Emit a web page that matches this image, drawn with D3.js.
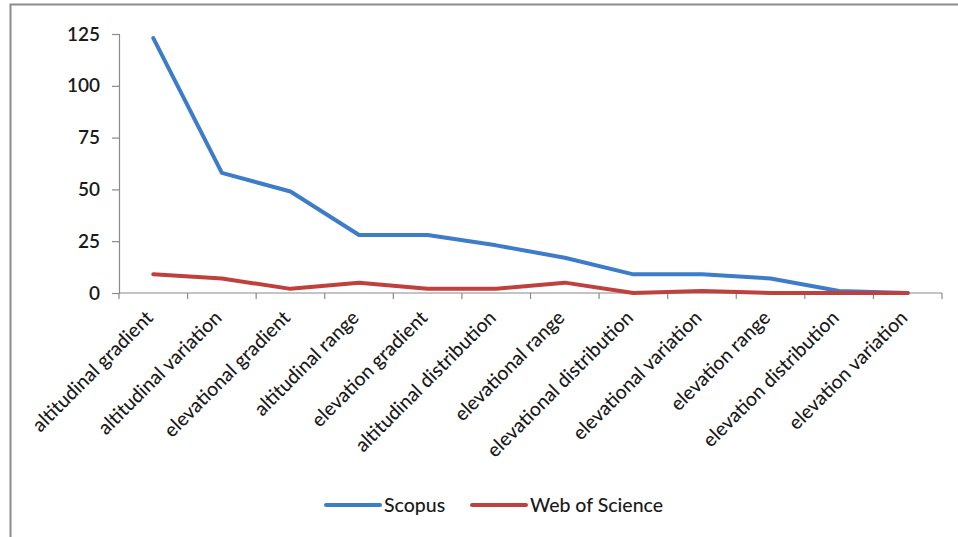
<!DOCTYPE html>
<html>
<head>
<meta charset="utf-8">
<script src="https://cdn.jsdelivr.net/npm/d3@7"></script>
<style>
  html, body { margin: 0; padding: 0; background: #fff; }
  svg { display: block; }
  text { font-family: Lato, "Open Sans", sans-serif; fill: #1a1a1a; }
</style>
</head>
<body>
<svg id="chart" width="958" height="537"></svg>
<script>
// Search terms, in order of their Scopus hit counts
const categories = [
  "altitudinal gradient", "altitudinal variation", "elevational gradient",
  "altitudinal range", "elevation gradient", "altitudinal distribution",
  "elevational range", "elevational distribution", "elevational variation",
  "elevation range", "elevation distribution", "elevation variation"
];
const scopus       = [123, 58, 49, 28, 28, 23, 17, 9, 9, 7, 1, 0];
const webOfScience = [9, 7, 2, 5, 2, 2, 5, 0, 1, 0, 0, 0];
const yTicks = [0, 25, 50, 75, 100, 125];

const seriesList = [
  { name: "Scopus", values: scopus, color: "#3d7cc9" },
  { name: "Web of Science", values: webOfScience, color: "#c0403d" }
];

const svg = d3.select("#chart");

// outer chart frame (runs past the right and bottom edges)
svg.append("rect")
  .attr("x", 10.5).attr("y", 4.5)
  .attr("width", 1000).attr("height", 600)
  .attr("fill", "none")
  .attr("stroke", "#8c8c8c")
  .attr("stroke-width", 2);

const x = d3.scaleBand().domain(categories).range([119, 942]);
const y = d3.scaleLinear().domain([0, 125]).range([293, 34]);

const axisColor = "#8a8a8a";

// y axis
const yAxis = svg.append("g")
  .attr("transform", "translate(119,0)")
  .call(d3.axisLeft(y).tickValues(yTicks).tickSize(7).tickPadding(12));
yAxis.select(".domain").attr("stroke", axisColor).attr("stroke-width", 1.2);
yAxis.selectAll(".tick line").attr("stroke", axisColor).attr("stroke-width", 1.2);
yAxis.selectAll(".tick text")
  .style("font-size", "19px")
  .style("font-weight", "600")
  .style("font-family", "Lato, sans-serif")
  .attr("fill", "#111");

// x axis line and ticks at category boundaries
const xAxisG = svg.append("g");
xAxisG.append("line")
  .attr("x1", x.range()[0]).attr("x2", x.range()[1])
  .attr("y1", y(0)).attr("y2", y(0))
  .attr("stroke", axisColor).attr("stroke-width", 1.2);
const boundaries = categories.map(c => x(c) + x.bandwidth());
boundaries.unshift(x(categories[0]));
xAxisG.selectAll("line.tick")
  .data(boundaries)
  .join("line")
  .attr("class", "tick")
  .attr("x1", d => d).attr("x2", d => d)
  .attr("y1", y(0)).attr("y2", y(0) + 6)
  .attr("stroke", axisColor).attr("stroke-width", 1.2);

// rotated category labels
xAxisG.selectAll("text.cat")
  .data(categories)
  .join("text")
  .attr("class", "cat")
  .attr("text-anchor", "end")
  .attr("transform", d => `translate(${x(d) + x.bandwidth() / 2 + 1},${y(0) + 26}) rotate(-45)`)
  .style("font-size", "19.5px")
  .style("font-weight", "500")
  .attr("fill", "#111")
  .text(d => d);

// series lines
const line = d3.line()
  .x((d, i) => x(categories[i]) + x.bandwidth() / 2)
  .y(d => y(d));

svg.selectAll("path.series")
  .data(seriesList)
  .join("path")
  .attr("class", "series")
  .attr("d", s => line(s.values))
  .attr("fill", "none")
  .attr("stroke", s => s.color)
  .attr("stroke-width", 4)
  .attr("stroke-linejoin", "round")
  .attr("stroke-linecap", "round");

// legend
const legendItems = [
  { s: seriesList[0], x: 326 },
  { s: seriesList[1], x: 472 }
];
const lg = svg.selectAll("g.legend")
  .data(legendItems)
  .join("g")
  .attr("class", "legend")
  .attr("transform", d => `translate(${d.x},505)`);
lg.append("line")
  .attr("x1", 0).attr("x2", 54)
  .attr("stroke", d => d.s.color)
  .attr("stroke-width", 4)
  .attr("stroke-linecap", "round");
lg.append("text")
  .attr("x", 58).attr("y", 7)
  .style("font-size", "19.5px")
  .style("font-weight", "500")
  .attr("fill", "#111")
  .text(d => d.s.name);
</script>
</body>
</html>
